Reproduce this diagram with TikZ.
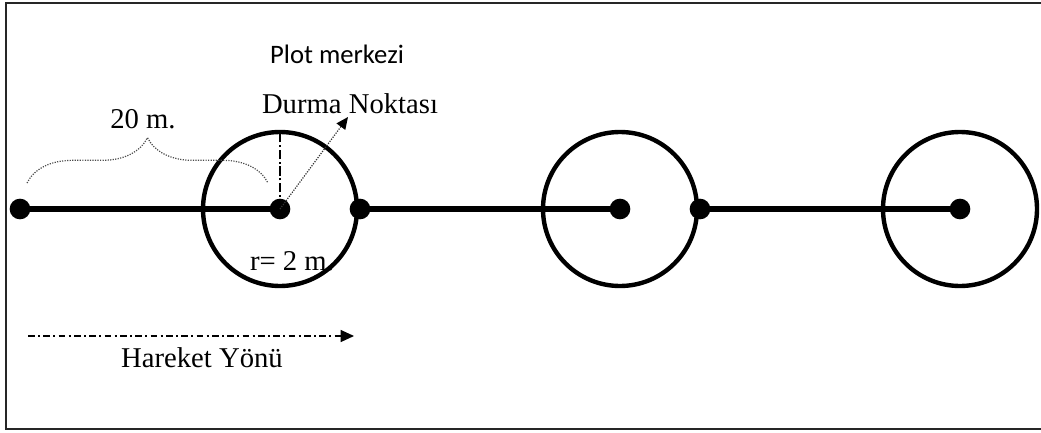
\documentclass[tikz,border=0pt]{standalone}
\usepackage{fontspec}
\setmainfont{Liberation Serif}
\newfontfamily\calfont{Carlito}
\usetikzlibrary{arrows.meta,decorations.pathreplacing}
\begin{document}
\begin{tikzpicture}[x=0.75pt,y=-0.75pt,
  dot/.style={circle,fill=black,inner sep=0pt,minimum size=15.5pt},
  plot/.style={circle,draw=black,line width=3.3pt,inner sep=0pt,minimum size=115.5pt},
  walk/.style={line width=3.8pt,shorten <=-3pt,shorten >=-3pt},
  lbl/.style={font=\fontsize{21.5}{24}\selectfont,inner sep=0pt},
  frame/.style={line width=1.5pt,draw=black!85}]
\useasboundingbox (0,0) rectangle (1041,432);
\fill[white] (0,0) rectangle (1041,432);
\draw[frame] (1045,3) -- (6,3) -- (6,429) -- (1045,429);
% plots
\node[plot] (c1) at (280,209) {};
\node[plot] (c2) at (620,209) {};
\node[plot] (c3) at (960,209) {};
% dots
\node[dot] (p0) at (20,209) {};
\node[dot] (p1) at (280,209) {};
\node[dot] (q1) at (360,209) {};
\node[dot] (p2) at (620,209) {};
\node[dot] (q2) at (700,209) {};
\node[dot] (p3) at (960,209) {};
\draw[walk] (p0) -- (p1);
\draw[walk] (q1) -- (p2);
\draw[walk] (q2) -- (p3);
% radius / stopping point
\coordinate (top1) at (280,131);
\draw[line width=0.8pt,dash pattern=on 7pt off 2pt on 1.5pt off 2pt] (p1.center) -- (top1);
\coordinate (dtip) at (348,117);
\draw[line width=0.9pt,densely dotted,black!80,-{Triangle[length=9pt,width=8pt,black]}] (p1.center) -- (dtip);
% brace
\coordinate (bl) at (27,183);
\coordinate (br) at (268,183);
\draw[line width=0.9pt,densely dotted,black!70,decorate,decoration={brace,amplitude=34pt}] (bl) -- (br);
% labels
\node[lbl,anchor=base] (l20) at (143,128) {20 m.};
\node[lbl,anchor=base] (ldur) at (350,113) {Durma Noktası};
\node[font=\calfont\fontsize{20}{22}\selectfont,inner sep=0pt,anchor=base] (lplot) at (337,63) {Plot merkezi};
\node[lbl,anchor=base] (lr) at (292,270) {r= 2 m.};
% direction
\coordinate (hs) at (28,336);
\coordinate (he) at (354,336);
\draw[line width=0.9pt,dash pattern=on 5pt off 2.5pt on 1.5pt off 2.5pt,-{Triangle[length=10pt,width=9pt]}] (hs) -- (he);
\node[lbl,anchor=base] (lh) at (202,367) {Hareket Yönü};
\end{tikzpicture}
\end{document}
